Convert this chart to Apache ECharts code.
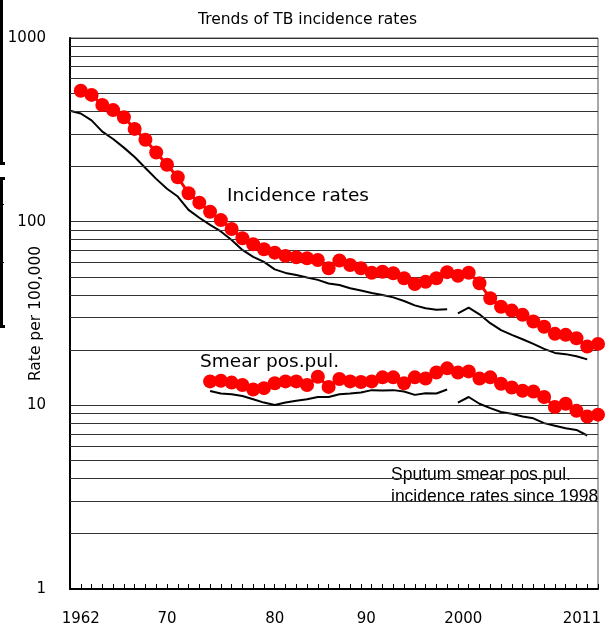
<!DOCTYPE html>
<html>
<head>
<meta charset="utf-8">
<script src="https://cdn.jsdelivr.net/npm/echarts/dist/echarts.min.js"></script>
<style>
  body { margin: 0; background: #fff; }
  #chart { width: 613px; height: 630px; }
</style>
</head>
<body>
<div id="chart"></div>
<script>
// one slot per year position on the axis (50 positions)
var years = [];
for (var y = 1961; y <= 2010; y++) years.push(String(y));

// x labels sit at these axis positions (the original places them by hand)
var xTickPos = [1, 9, 19, 27.5, 36.5, 47.5];
var xTickText = ['1962', '70', '80', '90', '2000', '2011'];

// minor grid lines of the log axis
var logGrid = [2, 3, 4, 5, 6, 7, 8, 9, 20, 30, 40, 50, 60, 70, 80, 90, 200, 300, 400, 500, 600, 700, 800, 900];

// red dots, incidence rates, from position 1
var incidence = [516, 490, 432, 405, 370, 320, 279, 238, 204, 174.5, 142.8, 126.9, 113.3, 102, 91.2, 81.2, 75.3,
  70.7, 67.8, 65.1, 64.0, 63.2, 61.9, 55.7, 61.4, 58.1, 55.7, 52.7, 53.4, 52.4, 49.2, 45.8, 47.1, 49.2, 53.1,
  50.8, 52.7, 46.2, 38.3, 34.4, 32.8, 31.1, 28.6, 26.8, 24.5, 24.2, 23.2, 20.9, 21.6];
// black line, from position 0 up to the break, then after it
var incLineA = [402, 388, 356, 309, 282, 253, 225, 196, 171, 151, 137, 116, 105, 96, 88.5, 79.5, 70.2, 64.3,
  60.4, 55.0, 52.6, 51.3, 49.7, 48.2, 46.1, 45.2, 43.4, 42.2, 40.9, 39.9, 38.7, 37.0, 35.0, 33.8, 33.1, 33.4];
var incLineB = [31.7, 34.0, 31.3, 28.0, 25.7, 24.2, 22.9, 21.6, 20.3, 19.3, 19.0, 18.5, 17.8];

// smear positive pulmonary, red dots from position 13
var smear = [13.5, 13.6, 13.3, 12.9, 12.2, 12.4, 13.2, 13.5, 13.5, 12.9, 14.3, 12.6, 13.9, 13.5, 13.4, 13.5,
  14.2, 14.2, 13.2, 14.2, 14.0, 15.1, 15.9, 15.1, 15.3, 14.0, 14.2, 13.1, 12.5, 12.0, 11.9, 11.1, 9.8, 10.2,
  9.35, 8.7, 8.9];
var smearLineA = [11.98, 11.6, 11.5, 11.25, 10.8, 10.35, 10.05, 10.35, 10.6, 10.8, 11.1, 11.1, 11.5, 11.6,
  11.75, 12.1, 12.05, 12.1, 11.9, 11.4, 11.65, 11.6, 12.2];
var smearLineB = [10.35, 11.1, 10.2, 9.65, 9.2, 9.0, 8.7, 8.5, 8.0, 7.75, 7.5, 7.35, 6.85];

function pad(start, vals) {
  var out = [];
  for (var i = 0; i < years.length; i++) {
    var k = i - start;
    out.push(k >= 0 && k < vals.length ? vals[k] : null);
  }
  return out;
}

var FONT = 'DejaVu Sans';

function dots(data) {
  return {
    type: 'line',
    data: data,
    symbol: 'circle',
    symbolSize: 14,
    showAllSymbol: true,
    itemStyle: { color: '#ff0000' },
    lineStyle: { color: '#ff0000', width: 3 },
    z: 5
  };
}
function blackLine(data) {
  return {
    type: 'line',
    data: data,
    symbol: 'none',
    lineStyle: { color: '#000', width: 2 },
    z: 4
  };
}

var chart = echarts.init(document.getElementById('chart'));

var gridLines = blackLine(pad(0, []));
gridLines.markLine = {
  silent: true,
  symbol: ['none', 'none'],
  label: { show: false },
  lineStyle: { color: '#333', width: 1, type: 'solid' },
  data: logGrid.map(function (v) { return { yAxis: v }; }),
  animation: false
};
gridLines.z = 1;

var option = {
  animation: false,
  title: {
    text: 'Trends of TB incidence rates',
    left: 193,
    top: 7,
    textStyle: { fontFamily: FONT, fontSize: 15.5, fontWeight: 'normal', color: '#000' }
  },
  grid: {
    left: 70, right: 15, top: 38, bottom: 41,
    outerBoundsMode: 'none',
    containLabel: false,
    show: true, borderColor: '#555', borderWidth: 1
  },
  xAxis: [
    {
      type: 'category',
      data: years,
      boundaryGap: false,
      axisLine: { lineStyle: { color: '#000', width: 2 } },
      axisTick: { inside: true, length: 5, interval: 0, lineStyle: { color: '#000' } },
      axisLabel: { show: false },
      splitLine: { show: false }
    },
    {
      type: 'value',
      position: 'bottom',
      min: 0,
      max: years.length - 1,
      interval: 0.5,
      axisLine: { show: false },
      axisTick: { show: false },
      splitLine: { show: false },
      axisLabel: {
        margin: 23,
        fontFamily: FONT,
        fontSize: 15,
        color: '#000',
        formatter: function (v) {
          var i = xTickPos.indexOf(v);
          return i >= 0 ? xTickText[i] : '';
        }
      }
    }
  ],
  yAxis: {
    type: 'log',
    logBase: 10,
    min: 1,
    max: 1000,
    name: 'Rate per 100,000',
    nameLocation: 'middle',
    nameGap: 26,
    nameMoveOverlap: false,
    nameTextStyle: { fontFamily: FONT, fontSize: 15.5, color: '#000' },
    axisLine: { show: true, lineStyle: { color: '#000', width: 2 } },
    axisTick: { show: false },
    axisLabel: {
      margin: 24, fontFamily: FONT, fontSize: 15, color: '#000',
      formatter: function (v) { return String(Math.round(v)); }
    },
    splitLine: { lineStyle: { color: '#333', width: 1 } }
  },
  graphic: [
    { type: 'rect', shape: { x: 0, y: 0, width: 3, height: 165 }, style: { fill: '#000' } },
    { type: 'rect', shape: { x: 0, y: 162, width: 5, height: 3 }, style: { fill: '#000' } },
    { type: 'rect', shape: { x: 0, y: 177, width: 3, height: 151 }, style: { fill: '#000' } },
    { type: 'rect', shape: { x: 0, y: 177, width: 5, height: 3 }, style: { fill: '#000' } },
    { type: 'rect', shape: { x: 0, y: 204, width: 4, height: 1 }, style: { fill: '#000' } },
    { type: 'rect', shape: { x: 0, y: 262, width: 4, height: 1 }, style: { fill: '#000' } },
    { type: 'rect', shape: { x: 0, y: 325, width: 5, height: 3 }, style: { fill: '#000' } },
    { type: 'text', left: 227, top: 187, style: { text: 'Incidence rates', fontFamily: FONT, fontSize: 18.5, fill: '#000' } },
    { type: 'text', left: 200, top: 353, style: { text: 'Smear pos.pul.', fontFamily: FONT, fontSize: 18.5, fill: '#000' } },
    {
      type: 'text', left: 391, top: 464,
      style: {
        text: 'Sputum smear pos.pul.\nincidence rates since 1998',
        fontFamily: 'Liberation Sans', fontSize: 17.5, lineHeight: 22, fill: '#000'
      }
    }
  ],
  series: [
    gridLines,
    blackLine(pad(0, incLineA)),
    blackLine(pad(36, incLineB)),
    blackLine(pad(13, smearLineA)),
    blackLine(pad(36, smearLineB)),
    dots(pad(1, incidence)),
    dots(pad(13, smear))
  ]
};
chart.setOption(option);
</script>
</body>
</html>
